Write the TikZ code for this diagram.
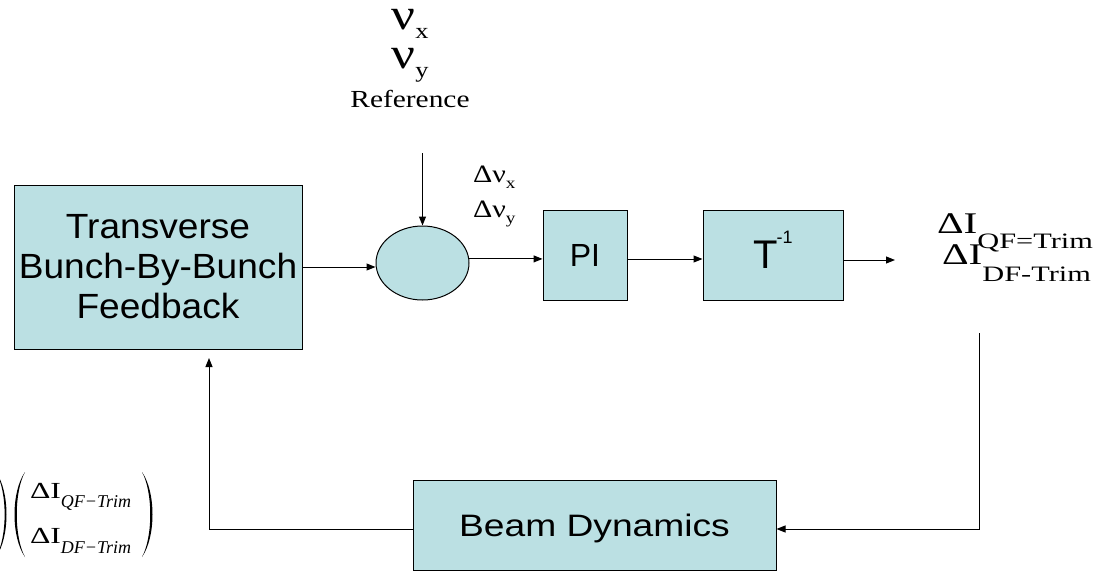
\documentclass[tikz,border=0pt]{standalone}
\usepackage{fontspec}
\usetikzlibrary{arrows.meta,shapes.geometric,calc}
\newfontfamily\sanA[FakeStretch=1.06]{Liberation Sans}
\newfontfamily\sanB[FakeStretch=1.2]{Liberation Sans}
\newfontfamily\sanC{Liberation Sans}
\newfontfamily\serA[FakeStretch=1.2]{Liberation Serif}
\newfontfamily\serB[FakeStretch=1.38]{Liberation Serif}
\newfontfamily\serC{Liberation Serif}
\definecolor{boxfill}{HTML}{BBE0E3}
\newcommand{\myfs}[2]{\fontsize{#1}{#2}\selectfont}
\tikzset{
  blockbox/.style={draw=black, line width=1pt, fill=boxfill, rectangle, inner sep=0pt},
  conn/.style={draw=black, line width=1pt, -{Triangle[length=9pt,width=7pt]}},
  lbl/.style={inner sep=0pt, outer sep=0pt},
  parenfill/.style={fill=black, draw=none},
}
\begin{document}
\begin{tikzpicture}[x=1pt,y=-1pt]
\useasboundingbox (0,0) rectangle (1106,571);

% blocks
\node[blockbox, minimum width=288pt, minimum height=164pt, align=center,
      font=\sanA\myfs{35}{40}] (tbb) at (158,267) {Transverse\\Bunch-By-Bunch\\Feedback};
\node[blockbox, ellipse, minimum width=93pt, minimum height=74pt] (sum) at (422.5,263) {};
\node[blockbox, minimum width=84pt, minimum height=90pt, font=\sanC\myfs{32}{32}] (pi) at (585,255) {PI};
\node[blockbox, minimum width=140pt, minimum height=90pt, font=\sanC\myfs{40}{40}] (tinv) at (773,255)
      {T\kern-1pt\smash{\raisebox{25pt}{\myfs{18}{18}-1}}};
\node[blockbox, minimum width=363pt, minimum height=90pt, text height=22pt, text depth=0pt,
      font=\sanB\myfs{31}{31}] (beam) at (594.5,525) {Beam Dynamics};

% reference labels
\node[lbl, anchor=base, text height=21pt, text depth=10pt, font=\serA\myfs{44}{44}] (nux) at (410,29) {ν\raisebox{-9pt}{\myfs{22}{22}x}};
\node[lbl, anchor=base, text height=21pt, text depth=14pt, font=\serA\myfs{44}{44}] (nuy) at (410,68) {ν\raisebox{-9pt}{\myfs{22}{22}y}};
\node[lbl, anchor=base, font=\serA\myfs{24.5}{24.5}] (ref) at (410,107) {Reference};

% delta nu labels
\node[lbl, anchor=base west, font=\serA\myfs{25}{25}] (dnx) at (473,182) {Δν\raisebox{-6pt}{\myfs{16}{16}x}};
\node[lbl, anchor=base west, font=\serA\myfs{25}{25}] (dny) at (473,217) {Δν\raisebox{-6pt}{\myfs{16}{16}y}};

% output labels
\node[lbl, anchor=base west, font=\serB\myfs{30}{30}] (dqf) at (937,233) {ΔI\raisebox{-15pt}{\myfs{22}{22}QF=Trim}};
\node[lbl, anchor=base west, font=\serB\myfs{30}{30}] (ddf) at (942,264) {ΔI\raisebox{-17pt}{\myfs{22}{22}DF-Trim}};

% matrix fragment
\node[lbl, anchor=base west, font=\serB\myfs{23}{23}] (m1) at (30,498) {ΔI\raisebox{-9pt}{\serC\itshape\myfs{18}{18}QF−Trim}};
\node[lbl, anchor=base west, font=\serB\myfs{23}{23}] (m2) at (30,543) {ΔI\raisebox{-10pt}{\serC\itshape\myfs{18}{18}DF−Trim}};
\path[parenfill] (-4,472) .. controls (10,492) and (10,537) .. (-4,557)
                 .. controls (7.5,537) and (7.5,492) .. (-4,472);
\path[parenfill] (25,472) .. controls (11,492) and (11,537) .. (25,557)
                 .. controls (14,537) and (14,492) .. (25,472);
\path[parenfill] (142,472) .. controls (156,492) and (156,537) .. (142,557)
                 .. controls (153,537) and (153,492) .. (142,472);

% connectors
\coordinate (refstart) at (422.5,153);
\draw[conn] (refstart) -- (sum.north);
\draw[conn] (tbb.east) -- (tbb.east -| sum.west);
\draw[conn] (sum.5) -- (sum.5 -| pi.west);
\draw[conn] ([yshift=-4pt]pi.east) -- ([yshift=-4pt]tinv.west);
\coordinate (outend) at (895,260);
\draw[conn] (tinv.east |- outend) -- (outend);
\coordinate (fbtop) at (979,333);
\draw[conn] (fbtop) |- ([yshift=-4pt]beam.east);
\coordinate (fbend) at (209,358);
\draw[conn] ([yshift=-4pt]beam.west) -| (fbend);
\end{tikzpicture}
\end{document}
